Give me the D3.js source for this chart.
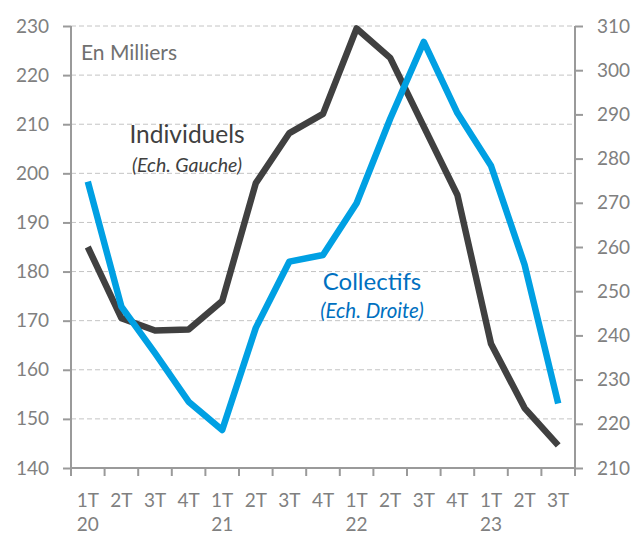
<!DOCTYPE html>
<html>
<head>
<meta charset="utf-8">
<script src="https://cdn.jsdelivr.net/npm/d3@7"></script>
<style>
  body { margin: 0; background: #fff; }
  svg text { font-family: Lato, "Open Sans", sans-serif; }
</style>
</head>
<body>
<svg width="637" height="535"></svg>
<script>
// Quarter labels and year labels (year shown under each 1T)
const quarters = ["1T","2T","3T","4T","1T","2T","3T","4T","1T","2T","3T","4T","1T","2T","3T"];
const years    = ["20","","","","21","","","","22","","","","23","",""];

// Series values, in thousands
const individuels = [185, 170.5, 168, 168.2, 174, 198, 208.2, 212.1, 229.5, 223.5, 209.5, 195.6, 165.3, 152.2, 144.6]; // left axis
const collectifs  = [274.8, 246.5, 236, 225, 218.6, 241.7, 256.7, 258.2, 269.9, 289, 306.4, 290.3, 278.4, 256, 224.6]; // right axis

const leftTicks  = [140, 150, 160, 170, 180, 190, 200, 210, 220, 230];
const rightTicks = [210, 220, 230, 240, 250, 260, 270, 280, 290, 300, 310];

const margin = {top: 26, right: 62, bottom: 67, left: 71};
const width = 637 - margin.left - margin.right;
const height = 535 - margin.top - margin.bottom;

const axisColor = "#9a9a9a";
const textColor = "#808080";

const svg = d3.select("svg")
  .append("g")
  .attr("transform", `translate(${margin.left},${margin.top})`);

const x = d3.scaleBand()
  .domain(d3.range(quarters.length))
  .range([0, width]);

const yLeft = d3.scaleLinear().domain([140, 230]).range([height, 0]);
const yRight = d3.scaleLinear().domain([210, 310]).range([height, 0]);

// Dashed gridlines
svg.selectAll(".grid")
  .data(leftTicks.filter(d => d > 140))
  .enter()
  .append("line")
  .attr("x1", 0)
  .attr("x2", width)
  .attr("y1", d => yLeft(d))
  .attr("y2", d => yLeft(d))
  .attr("stroke", "#c4c4c4")
  .attr("stroke-width", 1)
  .attr("stroke-dasharray", "5,3");

// Left axis
const leftAxis = svg.append("g")
  .call(d3.axisLeft(yLeft).tickValues(leftTicks).tickSize(8).tickPadding(14));
leftAxis.select(".domain").attr("stroke", axisColor).attr("stroke-width", 2).attr("d", `M0,0V${height}`);
leftAxis.selectAll(".tick line").attr("stroke", axisColor).attr("stroke-width", 2);
leftAxis.selectAll(".tick text").attr("fill", textColor).style("font-size", "19px");

// Right axis
const rightAxis = svg.append("g")
  .attr("transform", `translate(${width},0)`)
  .call(d3.axisRight(yRight).tickValues(rightTicks).tickSize(8).tickPadding(14));
rightAxis.select(".domain").attr("stroke", axisColor).attr("stroke-width", 2).attr("d", `M0,0V${height}`);
rightAxis.selectAll(".tick line").attr("stroke", axisColor).attr("stroke-width", 2);
rightAxis.selectAll(".tick text").attr("fill", textColor).style("font-size", "19px");

// Bottom axis: line plus ticks at band boundaries
const xAxis = svg.append("g").attr("transform", `translate(0,${height})`);
xAxis.append("line")
  .attr("x1", 0).attr("x2", width)
  .attr("stroke", axisColor).attr("stroke-width", 2);
xAxis.selectAll(".xtick")
  .data(d3.range(quarters.length + 1))
  .enter()
  .append("line")
  .attr("x1", d => d < quarters.length ? x(d) : width)
  .attr("x2", d => d < quarters.length ? x(d) : width)
  .attr("y1", 0).attr("y2", 8)
  .attr("stroke", axisColor).attr("stroke-width", 2);
xAxis.selectAll(".qlabel")
  .data(quarters)
  .enter()
  .append("text")
  .attr("x", (d, i) => x(i) + x.bandwidth() / 2)
  .attr("y", 39)
  .attr("text-anchor", "middle")
  .attr("fill", textColor)
  .style("font-size", "19px")
  .text(d => d);
xAxis.selectAll(".ylabel")
  .data(years)
  .enter()
  .append("text")
  .attr("x", (d, i) => x(i) + x.bandwidth() / 2)
  .attr("y", 63)
  .attr("text-anchor", "middle")
  .attr("fill", textColor)
  .style("font-size", "19px")
  .text(d => d);

// Lines
const lineLeft = d3.line()
  .x((d, i) => x(i) + x.bandwidth() / 2)
  .y(d => yLeft(d));
const lineRight = d3.line()
  .x((d, i) => x(i) + x.bandwidth() / 2)
  .y(d => yRight(d));

svg.append("path")
  .datum(individuels)
  .attr("d", lineLeft)
  .attr("fill", "none")
  .attr("stroke", "#404040")
  .attr("stroke-width", 6.5)
  .attr("stroke-linejoin", "round");

svg.append("path")
  .datum(collectifs)
  .attr("d", lineRight)
  .attr("fill", "none")
  .attr("stroke", "#00a0e3")
  .attr("stroke-width", 6.5)
  .attr("stroke-linejoin", "round");

// Annotations
svg.append("text")
  .attr("x", 10).attr("y", 34)
  .attr("fill", "#707070")
  .style("font-size", "21px")
  .text("En Milliers");

svg.append("text")
  .attr("x", 116).attr("y", 117)
  .attr("text-anchor", "middle")
  .attr("fill", "#404040")
  .style("font-size", "24.5px")
  .text("Individuels");
svg.append("text")
  .attr("x", 116).attr("y", 146)
  .attr("text-anchor", "middle")
  .attr("fill", "#404040")
  .style("font-size", "19.5px")
  .style("font-style", "italic")
  .text("(Ech. Gauche)");

svg.append("text")
  .attr("x", 301).attr("y", 264)
  .attr("text-anchor", "middle")
  .attr("fill", "#0070c0")
  .style("font-size", "24px")
  .text("Collectifs");
svg.append("text")
  .attr("x", 301).attr("y", 292)
  .attr("text-anchor", "middle")
  .attr("fill", "#0070c0")
  .style("font-size", "20.5px")
  .style("font-style", "italic")
  .text("(Ech. Droite)");
</script>
</body>
</html>
